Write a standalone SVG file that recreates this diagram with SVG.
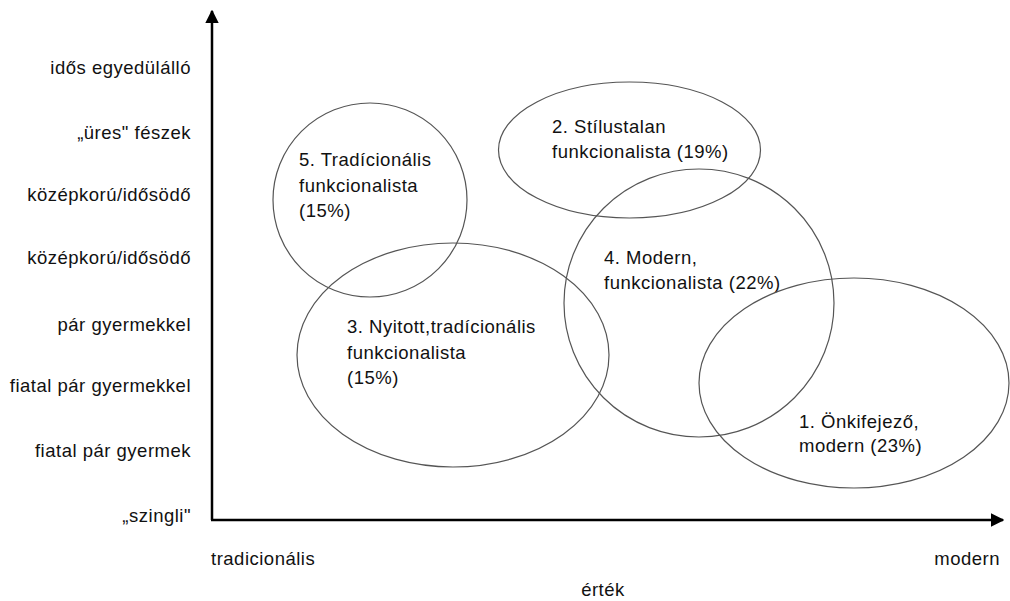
<svg xmlns="http://www.w3.org/2000/svg" width="1010" height="601" viewBox="0 0 1010 601">
  <style>
    text { font-family: "Liberation Sans", Arial, sans-serif; font-size: 18.5px; letter-spacing: 0.5px; fill: #111; }
    .ylab { text-anchor: end; }
    .seg { fill: none; stroke: #555; stroke-width: 1.2; }
    .axis { stroke: #000; stroke-width: 2.5; fill: none; }
  </style>
  <defs>
    <marker id="arrow" viewBox="0 0 10 10" refX="9" refY="5" markerWidth="5.5" markerHeight="5.5" markerUnits="strokeWidth" orient="auto">
      <path d="M0,0 L10,5 L0,10 z" fill="#000"/>
    </marker>
  </defs>

  <rect width="1010" height="601" fill="#fff"/>

  <!-- axes -->
  <g id="connectors">
    <line class="axis" x1="212" y1="520" x2="212" y2="11" marker-end="url(#arrow)"/>
    <line class="axis" x1="211" y1="520" x2="1003" y2="520" marker-end="url(#arrow)"/>
  </g>

  <!-- vertical axis categories -->
  <g id="y-labels">
    <text class="ylab" x="191" y="74">idős egyedülálló</text>
    <text class="ylab" x="191" y="139">„üres" fészek</text>
    <text class="ylab" x="191" y="201">középkorú/idősödő</text>
    <text class="ylab" x="191" y="264">középkorú/idősödő</text>
    <text class="ylab" x="191" y="331">pár gyermekkel</text>
    <text class="ylab" x="191" y="392">fiatal pár gyermekkel</text>
    <text class="ylab" x="191" y="457">fiatal pár gyermek</text>
    <text class="ylab" x="191" y="522">„szingli"</text>
  </g>

  <!-- horizontal axis labels -->
  <g id="x-labels">
    <text x="211" y="565">tradicionális</text>
    <text x="1000" y="565" text-anchor="end">modern</text>
    <text x="603" y="596" text-anchor="middle">érték</text>
  </g>

  <!-- segments -->
  <g id="seg5">
    <ellipse class="seg" cx="370" cy="200" rx="97" ry="97"/>
    <text x="299" y="166">5. Tradícionális</text>
    <text x="299" y="192">funkcionalista</text>
    <text x="299" y="217">(15%)</text>
  </g>
  <g id="seg3">
    <ellipse class="seg" cx="453" cy="355" rx="156" ry="112"/>
    <text x="347" y="333">3. Nyitott,tradícionális</text>
    <text x="347" y="359">funkcionalista</text>
    <text x="347" y="384">(15%)</text>
  </g>
  <g id="seg2">
    <ellipse class="seg" cx="629.5" cy="150" rx="131" ry="68"/>
    <text x="552" y="133">2. Stílustalan</text>
    <text x="552" y="158">funkcionalista (19%)</text>
  </g>
  <g id="seg4">
    <ellipse class="seg" cx="699" cy="303" rx="135" ry="134"/>
    <text x="604" y="264">4. Modern,</text>
    <text x="604" y="289">funkcionalista (22%)</text>
  </g>
  <g id="seg1">
    <ellipse class="seg" cx="854" cy="383" rx="155" ry="105"/>
    <text x="799" y="428">1. Önkifejező,</text>
    <text x="799" y="452">modern (23%)</text>
  </g>
</svg>
